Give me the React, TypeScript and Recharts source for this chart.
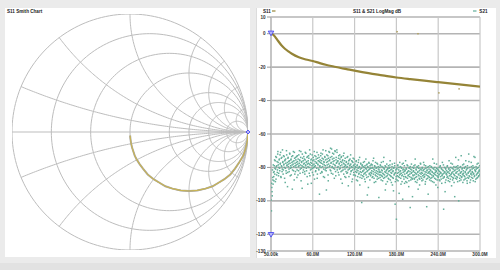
import React from 'react';
import {
  ScatterChart,
  Scatter,
  XAxis,
  YAxis,
  ComposedChart,
  Line,
  CartesianGrid,
  ReferenceDot,
} from 'recharts';

// ---------- Log-mag chart data ----------
const START_MHZ = 0.05;
const STOP_MHZ = 300;
const X_TICKS = [0.05, 60, 120, 180, 240, 300];
const X_TICK_LABELS = ['50.00k', '60.0M', '120.0M', '180.0M', '240.0M', '300.0M'];
const Y_TICKS = [10, 0, -20, -40, -60, -80, -100, -120, -130];

const S11_FREQ = [0.05, 3, 6, 10, 15, 20, 25, 30, 40, 50, 60, 70, 80, 90, 100, 110, 120, 140, 160, 180, 200, 220, 240, 260, 280, 300];
const S11_DB = [0, -0.5, -1.9, -4.2, -6.9, -9.0, -10.6, -12.0, -14.1, -15.4, -16.3, -17.6, -18.7, -19.6, -20.5, -21.3, -22.1, -23.6, -24.9, -26.2, -27.2, -28.1, -29.0, -29.9, -30.8, -31.6];
const S11_OUT_FREQ = [181, 211, 241, 270];
const S11_OUT_DB = [1.2, 0, -35.4, -33];

// S21 sweep points (on-grid)
const S21_DB = [
  -120.5, -106, -92, -97, -86, -90, -83, -88, -79, -84, -76, -81, -87, -74, -79, -83, -72, -77, -85, -80,
  -75, -82, -78, -71, -86, -79, -74, -81, -77, -84, -73, -78, -80, -76, -89, -75, -82, -70, -79, -77,
  -83, -74, -78, -81, -76, -72, -85, -79, -75, -80, -77, -93, -73, -78, -82, -76, -71, -84, -79, -74,
  -80, -77, -86, -73, -78, -75, -82, -79, -70, -76, -81, -74, -88, -77, -79, -72, -83, -76, -78, -80,
  -75, -84, -71, -79, -77, -82, -74, -78, -90, -76, -73, -80, -78, -85, -72, -77, -81, -75, -79, -83,
  -76, -74, -80, -78, -87, -73, -79, -82, -75, -77, -71, -84, -78, -76, -81, -74, -96, -79, -77, -73,
  -80, -76, -83, -72, -78, -75, -81, -77, -86, -74, -79, -70, -82, -77, -75, -80, -73, -88, -78, -76,
  -71, -79, -74, -82, -77, -69, -80, -75, -84, -78, -72, -76, -81, -70, -79, -85, -74, -77, -71, -80,
  -76, -83, -73, -78, -81, -75, -79, -87, -74, -77, -82, -76, -80, -73, -84, -78, -76, -81, -79, -86,
  -77, -80, -74, -83, -78, -91, -76, -81, -79, -75, -84, -78, -82, -76, -80, -87, -77, -79, -83, -75,
  -81, -78, -85, -80, -76, -83, -79, -88, -82, -77, -84, -80, -74, -86, -81, -78, -83, -101, -79, -85,
  -82, -77, -84, -80, -87, -79, -83, -75, -81, -86, -78, -82, -80, -92, -77, -84, -81, -79, -85, -83,
  -78, -82, -86, -80, -76, -84, -81, -89, -79, -83, -77, -85, -82, -80, -87, -78, -84, -81, -98, -83,
  -80, -86, -79, -83, -77, -85, -82, -88, -80, -84, -74, -81, -86, -79, -83, -90, -82, -78, -85, -81,
  -84, -79, -87, -82, -80, -76, -85, -83, -89, -81, -78, -86, -82, -94, -80, -84, -79, -102, -83, -87,
  -111, -81, -85, -79, -88, -83, -80, -86, -77, -84, -82, -90, -80, -85, -78, -99, -83, -81, -87, -79,
  -84, -82, -76, -86, -81, -89, -83, -79, -85, -82, -88, -80, -84, -104, -81, -86, -78, -83, -87, -80,
  -85, -82, -79, -87, -83, -75, -86, -81, -84, -89, -80, -83, -93, -79, -85, -82, -87, -81, -78, -84,
  -83, -88, -80, -85, -82, -77, -86, -81, -84, -90, -79, -83, -87, -82, -80, -85, -96, -83, -81, -86,
  -79, -84, -82, -88, -80, -86, -83, -75, -85, -81, -89, -84, -80, -83, -87, -82, -78, -85, -81, -92,
  -86, -82, -80, -84, -88, -79, -83, -87, -81, -85, -77, -84, -82, -105, -86, -80, -83, -89, -81, -84,
  -82, -86, -79, -83, -88, -81, -76, -85, -82, -87, -80, -84, -91, -83, -78, -86, -81, -84, -89, -82,
  -85, -80, -74, -83, -87, -81, -86, -79, -84, -100, -82, -88, -80, -85, -83, -73, -86, -81, -84, -89,
  -82, -78, -85, -80, -87, -83, -76, -84, -81, -88, -79, -86, -83, -72, -85, -80, -89, -82, -84, -77,
  -86, -81, -83, -79, -88, -84, -80, -85, -74, -82, -87, -81, -84, -78, -86, -83, -80, -85, -82, -79, -84,
];

// S21 sweep points (half-step between the on-grid points)
const S21_DB_MID = [
  -99.5, -89.5, -94.5, -81.5, -87.5, -78.5, -85.5, -82.5, -75.5, -80.5, -88.5, -73.5, -79.5, -84.5, -76.5, -81.5, -70.5, -78.5, -83.5, -75.5,
  -80.5, -72.5, -77.5, -85.5, -74.5, -79.5, -82.5, -69.5, -76.5, -81.5, -78.5, -73.5, -86.5, -75.5, -80.5, -77.5, -83.5, -72.5, -78.5, -91.5,
  -74.5, -79.5, -76.5, -82.5, -71.5, -77.5, -80.5, -75.5, -84.5, -73.5, -78.5, -81.5, -76.5, -70.5, -79.5, -87.5, -74.5, -77.5, -82.5, -75.5,
  -78.5, -73.5, -81.5, -76.5, -84.5, -79.5, -72.5, -77.5, -75.5, -83.5, -78.5, -70.5, -80.5, -76.5, -92.5, -74.5, -79.5, -81.5, -73.5, -77.5,
  -82.5, -75.5, -78.5, -71.5, -80.5, -76.5, -85.5, -73.5, -79.5, -77.5, -74.5, -83.5, -69.5, -78.5, -81.5, -75.5, -89.5, -77.5, -72.5, -80.5,
  -78.5, -84.5, -75.5, -70.5, -79.5, -76.5, -82.5, -73.5, -77.5, -80.5, -86.5, -74.5, -78.5, -72.5, -81.5, -76.5, -79.5, -75.5, -83.5, -71.5,
  -77.5, -82.5, -74.5, -79.5, -69.5, -85.5, -76.5, -78.5, -73.5, -81.5, -75.5, -80.5, -93.5, -72.5, -78.5, -76.5, -84.5, -74.5, -70.5, -79.5,
  -75.5, -81.5, -68.5, -77.5, -83.5, -73.5, -79.5, -71.5, -76.5, -80.5, -74.5, -86.5, -78.5, -70.5, -82.5, -75.5, -77.5, -69.5, -81.5, -76.5,
  -79.5, -74.5, -84.5, -77.5, -72.5, -80.5, -76.5, -82.5, -73.5, -78.5, -89.5, -75.5, -81.5, -77.5, -71.5, -79.5, -85.5, -74.5, -78.5, -82.5,
  -76.5, -83.5, -79.5, -73.5, -81.5, -77.5, -85.5, -75.5, -80.5, -78.5, -72.5, -82.5, -79.5, -88.5, -76.5, -81.5, -74.5, -84.5, -78.5, -80.5,
  -84.5, -79.5, -82.5, -76.5, -87.5, -81.5, -78.5, -85.5, -80.5, -75.5, -83.5, -79.5, -90.5, -82.5, -77.5, -84.5, -80.5, -86.5, -78.5, -82.5,
  -79.5, -85.5, -81.5, -76.5, -83.5, -88.5, -80.5, -84.5, -78.5, -82.5, -96.5, -79.5, -85.5, -81.5, -77.5, -83.5, -87.5, -80.5, -84.5, -78.5,
  -83.5, -80.5, -78.5, -85.5, -82.5, -74.5, -86.5, -81.5, -79.5, -84.5, -88.5, -80.5, -83.5, -77.5, -85.5, -82.5, -79.5, -86.5, -81.5, -84.5,
  -82.5, -78.5, -84.5, -87.5, -81.5, -79.5, -85.5, -83.5, -76.5, -86.5, -80.5, -84.5, -82.5, -93.5, -79.5, -85.5, -81.5, -83.5, -88.5, -80.5,
  -86.5, -82.5, -80.5, -84.5, -78.5, -87.5, -81.5, -85.5, -83.5, -79.5, -90.5, -82.5, -86.5, -80.5, -84.5, -77.5, -83.5, -88.5, -81.5, -85.5,
  -80.5, -87.5, -83.5, -78.5, -85.5, -81.5, -95.5, -84.5, -82.5, -79.5, -86.5, -83.5, -80.5, -88.5, -84.5, -81.5, -77.5, -85.5, -82.5, -89.5,
  -81.5, -85.5, -88.5, -80.5, -83.5, -78.5, -86.5, -82.5, -84.5, -91.5, -80.5, -85.5, -82.5, -79.5, -87.5, -83.5, -81.5, -86.5, -97.5, -84.5,
  -82.5, -80.5, -86.5, -84.5, -78.5, -88.5, -83.5, -81.5, -85.5, -79.5, -87.5, -82.5, -84.5, -80.5, -86.5, -90.5, -83.5, -77.5, -85.5, -81.5,
  -86.5, -80.5, -83.5, -87.5, -81.5, -84.5, -78.5, -85.5, -82.5, -88.5, -80.5, -84.5, -103.5, -81.5, -86.5, -83.5, -79.5, -85.5, -82.5, -87.5,
  -83.5, -81.5, -86.5, -79.5, -84.5, -82.5, -88.5, -80.5, -85.5, -83.5, -77.5, -86.5, -81.5, -84.5, -90.5, -82.5, -80.5, -87.5, -83.5, -85.5,
  -81.5, -84.5, -87.5, -82.5, -79.5, -85.5, -83.5, -80.5, -89.5, -84.5, -81.5, -86.5, -78.5, -83.5, -85.5, -82.5, -94.5, -80.5, -87.5, -83.5,
  -84.5, -79.5, -85.5, -82.5, -86.5, -80.5, -83.5, -88.5, -81.5, -84.5, -77.5, -85.5, -83.5, -80.5, -87.5, -82.5, -86.5, -79.5, -84.5, -97.5,
  -81.5, -86.5, -83.5, -79.5, -85.5, -82.5, -88.5, -80.5, -75.5, -84.5, -81.5, -86.5, -83.5, -79.5, -87.5, -82.5, -85.5, -80.5, -78.5, -84.5,
  -83.5, -87.5, -80.5, -85.5, -82.5, -79.5, -86.5, -81.5, -84.5, -89.5, -80.5, -83.5, -86.5, -76.5, -82.5, -85.5, -81.5, -87.5, -83.5, -79.5,
  -84.5, -82.5, -86.5, -80.5, -83.5, -73.5, -85.5, -81.5, -88.5, -82.5, -79.5, -84.5, -86.5, -80.5, -83.5, -77.5, -85.5, -82.5, -81.5, -84.5,
];

// ---------- Smith chart data ----------
const SMITH_R_CIRCLES = [0, 0.2, 0.5, 1, 2, 3, 5, 10];
const SMITH_X_ARCS = [0.2, 0.5, 1, 2, 3, 5, 10];
const SMITH_S11_RE = [1.0, 0.995, 0.98, 0.96, 0.93, 0.89, 0.85, 0.8, 0.75, 0.7, 0.64, 0.57, 0.5, 0.43, 0.36, 0.3, 0.25, 0.2, 0.15, 0.11, 0.08, 0.055, 0.04, 0.025, 0.017, 0.01, 0.006, 0.004, 0.003, 0.002, 0.001];
const SMITH_S11_IM = [0, -0.07, -0.14, -0.2, -0.25, -0.31, -0.36, -0.4, -0.43, -0.46, -0.48, -0.495, -0.5, -0.495, -0.48, -0.46, -0.43, -0.4, -0.36, -0.31, -0.27, -0.23, -0.2, -0.155, -0.13, -0.1, -0.075, -0.06, -0.05, -0.04, -0.03];

// ---------- styles ----------
const FONT = '"Liberation Sans", Arial, sans-serif';
const GRID = '#bdbdbd';
const S11_COLOR = '#958437';
const S21_COLOR = '#62ae99';
const MARKER = '#4b4bf0';

type Pt = { x: number; y: number };

function arcPoints(cx: number, cy: number, R: number, a0: number, a1: number, n: number): Pt[] {
  const pts: Pt[] = [];
  for (let i = 0; i <= n; i++) {
    const t = a0 + ((a1 - a0) * i) / n;
    pts.push({ x: cx + R * Math.cos(t), y: cy + R * Math.sin(t) });
  }
  return pts;
}

const SMITH_GRID: Pt[][] = [
  [{ x: -1, y: 0 }, { x: 1, y: 0 }],
  ...SMITH_R_CIRCLES.map((r) => arcPoints(r / (1 + r), 0, 1 / (1 + r), 0, 2 * Math.PI, 180)),
  ...SMITH_X_ARCS.flatMap((x) => {
    const raw = Math.atan2((x * x - 1) / (x * (x * x + 1)), -2 / (x * x + 1));
    const a1 = raw > -Math.PI / 2 ? raw - 2 * Math.PI : raw;
    const up = arcPoints(1, 1 / x, 1 / x, -Math.PI / 2, a1, 120);
    return [up, up.map((p) => ({ x: p.x, y: -p.y }))];
  }),
];

const STEP = (STOP_MHZ - START_MHZ) / (S21_DB.length - 1);
const smithTrace: Pt[] = SMITH_S11_RE.map((re, i) => ({ x: re, y: SMITH_S11_IM[i] }));
const s11Data = S11_FREQ.map((f, i) => ({ f, db: S11_DB[i] }));
const s11Out = S11_OUT_FREQ.map((f, i) => ({ f, db: S11_OUT_DB[i] }));
const s21Data = [
  ...S21_DB.map((db, i) => ({ f: START_MHZ + STEP * i, db })),
  ...S21_DB_MID.map((db, i) => ({ f: START_MHZ + STEP * (i + 0.5), db })),
];

const NoShape = () => <g />;

const SquareDot = (props: any) => {
  const { cx, cy, fill } = props;
  if (cx == null || cy == null) return <g />;
  return <rect x={cx - 0.75} y={cy - 0.75} width={1.5} height={1.5} fill={fill} />;
};

const TriMarker = (props: any) => {
  const { cx, cy } = props;
  return (
    <path
      d={`M${cx - 2.8},${cy - 2.6} L${cx + 2.8},${cy - 2.6} L${cx},${cy + 2} Z`}
      fill="#b8b8f8"
      stroke={MARKER}
      strokeWidth={0.9}
    />
  );
};

const DiamondMarker = (props: any) => {
  const { cx, cy } = props;
  return (
    <path
      d={`M${cx},${cy - 2} L${cx + 2},${cy} L${cx},${cy + 2} L${cx - 2},${cy} Z`}
      fill="#b8b8f8"
      stroke={MARKER}
      strokeWidth={0.9}
    />
  );
};

const tickStyle = { fontSize: 4.6, fill: '#333', fontFamily: FONT, fontWeight: 700 };

export default function App() {
  return (
    <div
      style={{
        position: 'fixed',
        left: 0,
        top: 0,
        width: 500,
        height: 270,
        background: '#ebebeb',
        overflow: 'hidden',
        fontFamily: FONT,
      }}
    >
      <div style={{ position: 'absolute', left: 0, top: 263, width: 500, height: 7, background: '#e2e2e2' }} />
      <div style={{ position: 'absolute', left: 5, top: 8, width: 245, height: 249, background: '#fff' }} />
      <div
        style={{
          position: 'absolute',
          left: 256,
          top: 8,
          width: 239,
          height: 250,
          background: '#fff',
          borderLeft: '1px solid #dcdcdc',
        }}
      />

      {/* Smith chart */}
      <div style={{ position: 'absolute', left: 0, top: 0 }}>
        <ScatterChart width={250} height={262} margin={{ top: 14, right: 2, bottom: 12, left: 12 }}>
          <XAxis type="number" dataKey="x" domain={[-1, 1]} hide allowDataOverflow />
          <YAxis type="number" dataKey="y" domain={[-1, 1]} hide allowDataOverflow />
          {SMITH_GRID.map((pts, i) => (
            <Scatter
              key={i}
              data={pts}
              fill={GRID}
              line={{ stroke: GRID, strokeWidth: 1 }}
              lineType="joint"
              shape={NoShape}
              isAnimationActive={false}
            />
          ))}
          <Scatter
            data={smithTrace}
            fill="#a8a8a8"
            line={{ stroke: '#a8a8a8', strokeWidth: 2 }}
            lineType="joint"
            shape={NoShape}
            isAnimationActive={false}
          />
          <Scatter
            data={smithTrace}
            fill="#c9b454"
            line={{ stroke: '#c9b454', strokeWidth: 1.1 }}
            lineType="joint"
            shape={NoShape}
            isAnimationActive={false}
          />
          <ReferenceDot x={1} y={0} r={2} shape={DiamondMarker} ifOverflow="visible" />
        </ScatterChart>
      </div>

      {/* LogMag chart */}
      <div style={{ position: 'absolute', left: 250, top: 0 }}>
        <ComposedChart width={250} height={270} margin={{ top: 17, right: 20, bottom: 7, left: 0 }}>
          <CartesianGrid vertical={false} stroke="#b4b4b4" strokeWidth={1.6} />
          <CartesianGrid horizontal={false} stroke="#c8c8c8" strokeWidth={1.2} />
          <XAxis
            type="number"
            dataKey="f"
            domain={[START_MHZ, STOP_MHZ]}
            ticks={X_TICKS}
            interval={0}
            allowDataOverflow
            tickFormatter={(v: number) => X_TICK_LABELS[X_TICKS.indexOf(v)] ?? ''}
            tickSize={0}
            tickMargin={1.5}
            height={12}
            axisLine={false}
            tick={tickStyle}
          />
          <YAxis
            type="number"
            domain={[-130, 10]}
            ticks={Y_TICKS}
            interval={0}
            allowDataOverflow
            width={21}
            tickSize={4}
            tickMargin={1.5}
            axisLine={{ stroke: '#b4b4b4', strokeWidth: 1.2 }}
            tickLine={{ stroke: '#999' }}
            tick={tickStyle}
          />
          <Scatter
            data={s21Data}
            dataKey="db"
            fill={S21_COLOR}
            shape={SquareDot}
            isAnimationActive={false}
          />
          <Line
            data={s11Data}
            dataKey="db"
            type="monotone"
            stroke={S11_COLOR}
            strokeWidth={2.2}
            dot={false}
            isAnimationActive={false}
          />
          <Scatter data={s11Out} dataKey="db" fill="#b0a060" shape={SquareDot} isAnimationActive={false} />
          <ReferenceDot x={0.05} y={0} r={3} shape={TriMarker} ifOverflow="visible" />
          <ReferenceDot x={0.05} y={-120.5} r={3} shape={TriMarker} ifOverflow="visible" />
        </ComposedChart>
      </div>

      {/* titles & legend */}
      <svg
        width={500}
        height={270}
        style={{ position: 'absolute', left: 0, top: 0, pointerEvents: 'none' }}
      >
        <text x={7} y={12.6} fontSize={4.6} fill="#222" fontFamily={FONT} fontWeight={700}>
          S11 Smith Chart
        </text>
        <text x={377} y={12.6} fontSize={4.6} fill="#222" fontFamily={FONT} fontWeight={700} textAnchor="middle">
          S11 &amp; S21 LogMag dB
        </text>
        <text x={263} y={12.6} fontSize={4.6} fill="#222" fontFamily={FONT} fontWeight={700}>
          S11
        </text>
        <line x1={272} y1={11} x2={275.5} y2={11} stroke={S11_COLOR} strokeWidth={1.2} />
        <line x1={473} y1={11} x2={476.5} y2={11} stroke={S21_COLOR} strokeWidth={1.2} />
        <text x={487.5} y={12.6} fontSize={4.6} fill="#222" fontFamily={FONT} fontWeight={700} textAnchor="end">
          S21
        </text>
      </svg>
    </div>
  );
}
